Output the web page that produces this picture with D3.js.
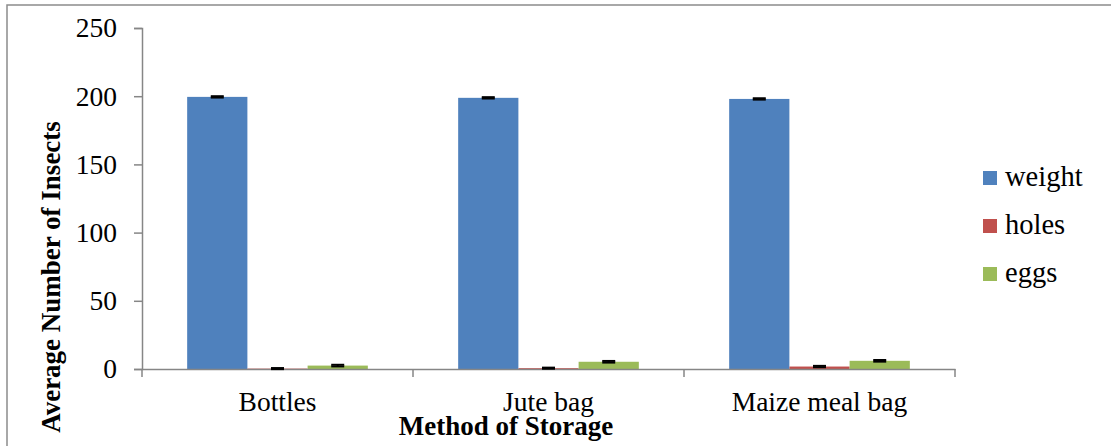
<!DOCTYPE html>
<html><head><meta charset="utf-8">
<script src="https://cdn.jsdelivr.net/npm/d3@7/dist/d3.min.js"></script>
<style>html,body{margin:0;padding:0;background:#fff;}svg{display:block;}</style>
</head><body>
<svg id="chart" width="1111" height="446"></svg>
<script>
const categories = ["Bottles", "Jute bag", "Maize meal bag"];
const seriesNames = ["weight", "holes", "eggs"];
const weightValues = [199.5, 198.8, 198.0];
const holesValues = [0.3, 0.6, 1.8];
const eggsValues = [2.5, 5.3, 6.0];
const weightErr = [0.5, 0.5, 0.5];
const holesErr = [0.4, 0.4, 0.5];
const eggsErr = [0.6, 0.6, 0.6];
const yTicks = [0, 50, 100, 150, 200, 250];
const colors = ["#4F81BD", "#C0504D", "#9BBB59"];

const values = [weightValues, holesValues, eggsValues];
const errs = [weightErr, holesErr, eggsErr];
const svg = d3.select("#chart");
const font = "'Liberation Serif','Times New Roman',serif";

// outer frame
svg.append("rect").attr("x", 7).attr("y", 5).attr("width", 1200).attr("height", 600)
  .attr("fill", "none").attr("stroke", "#8c8c8c").attr("stroke-width", 1.5);

const x0 = 142, x1 = 955, yTop = 28, yBot = 369;
const x = d3.scaleBand().domain(categories).range([x0, x1]).paddingInner(0).paddingOuter(0);
const y = d3.scaleLinear().domain([0, 250]).range([yBot, yTop]);
const bw = x.bandwidth() / 4.5;
const xs = d3.scaleBand().domain(seriesNames).range([0, bw * 3]);

// bars
seriesNames.forEach((s, si) => {
  const g = svg.append("g");
  g.selectAll("rect").data(categories).join("rect")
    .attr("x", (c) => x(c) + bw * 0.75 + xs(s))
    .attr("y", (c, i) => y(values[si][i]))
    .attr("width", xs.bandwidth())
    .attr("height", (c, i) => y(0) - y(values[si][i]))
    .attr("fill", colors[si]);
});

// axes
const yAxis = d3.axisLeft(y).tickValues(yTicks).tickSize(8).tickPadding(17);
const ga = svg.append("g").attr("transform", `translate(${x0},0)`).call(yAxis);
ga.attr("font-family", font);
ga.select(".domain").attr("stroke", "#868686").attr("stroke-width", 1.5);
ga.selectAll(".tick line").attr("stroke", "#868686").attr("stroke-width", 1.5);
ga.selectAll(".tick text").attr("font-family", font).attr("font-size", 27.5).attr("fill", "#000");

const xAxis = d3.axisBottom(x).tickSize(0).tickPadding(22);
const gx = svg.append("g").attr("transform", `translate(0,${yBot})`).call(xAxis);
gx.attr("font-family", font);
gx.select(".domain").attr("stroke", "#868686").attr("stroke-width", 1.5);
gx.selectAll(".tick text").attr("font-family", font).attr("font-size", 27.5).attr("fill", "#000");
// category boundary ticks
const bounds = categories.map(c => x(c)).concat([x1]);
svg.append("g").selectAll("line").data(bounds).join("line")
  .attr("x1", d => d).attr("x2", d => d).attr("y1", yBot).attr("y2", yBot + 8)
  .attr("stroke", "#868686").attr("stroke-width", 1.5);

// error bars
seriesNames.forEach((s, si) => {
  const g = svg.append("g");
  categories.forEach((c, i) => {
    const cx = x(c) + bw * 0.75 + xs(s) + xs.bandwidth() / 2;
    const v = values[si][i], e = errs[si][i];
    [v - e, v + e].forEach(val => {
      g.append("line").attr("x1", cx - 6.5).attr("x2", cx + 6.5)
        .attr("y1", y(val)).attr("y2", y(val)).attr("stroke", "#000").attr("stroke-width", 2);
    });
    g.append("line").attr("x1", cx).attr("x2", cx).attr("y1", y(v - e)).attr("y2", y(v + e))
      .attr("stroke", "#000").attr("stroke-width", 2);
  });
});

// axis titles
svg.append("text").attr("x", 506).attr("y", 435).attr("text-anchor", "middle")
  .attr("font-family", font).attr("font-size", 27).attr("font-weight", "bold").text("Method of Storage");
svg.append("text").attr("transform", "translate(60,277) rotate(-90)").attr("text-anchor", "middle")
  .attr("font-family", font).attr("font-size", 27).attr("font-weight", "bold").text("Average Number of Insects");

// legend
const lg = svg.append("g");
seriesNames.forEach((s, i) => {
  const cy = 178 + i * 48;
  lg.append("rect").attr("x", 983).attr("y", cy - 7).attr("width", 14).attr("height", 14).attr("fill", colors[i]);
  lg.append("text").attr("x", 1005).attr("y", cy + 8).attr("font-family", font).attr("font-size", 28.5)
    .attr("fill", "#000").text(s);
});
</script>
</body></html>
